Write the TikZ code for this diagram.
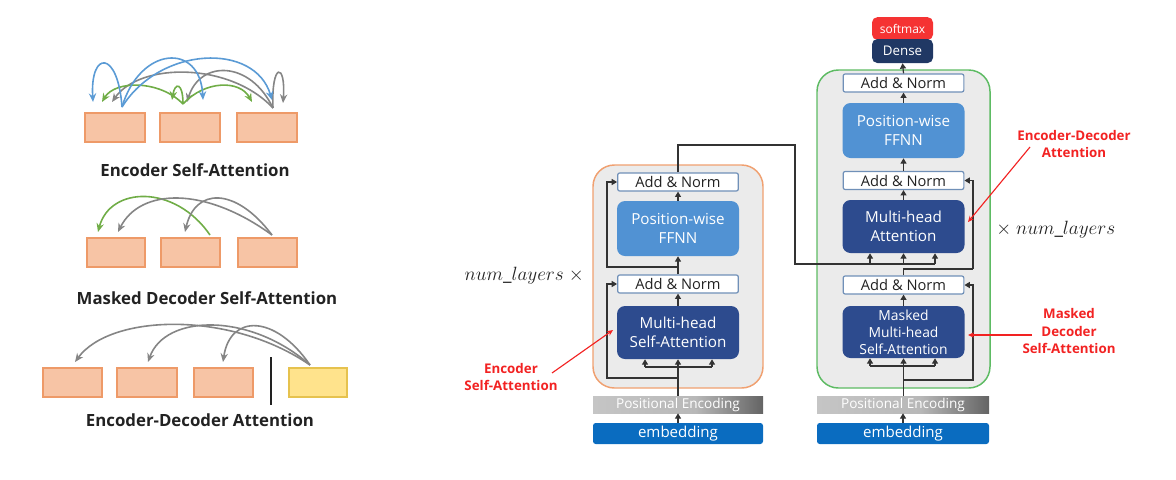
\documentclass[tikz,border=0pt]{standalone}
\usepackage{fontspec}
\setmainfont{Open Sans}
\usetikzlibrary{arrows.meta}
\definecolor{txt}{HTML}{222222}
\definecolor{salfill}{HTML}{F7C4A5}
\definecolor{saldraw}{HTML}{EE9A68}
\definecolor{yelfill}{HTML}{FFE38C}
\definecolor{yeldraw}{HTML}{E6C24E}
\definecolor{arcblue}{HTML}{5B9BD5}
\definecolor{arcgreen}{HTML}{70AD47}
\definecolor{arcgray}{HTML}{858585}
\definecolor{contfill}{HTML}{EBEBEB}
\definecolor{encdraw}{HTML}{F0A070}
\definecolor{decdraw}{HTML}{5DBB63}
\definecolor{anb}{HTML}{7090B8}
\definecolor{fffill}{HTML}{5192D3}
\definecolor{mhafill}{HTML}{2D4B8E}
\definecolor{densefill}{HTML}{203864}
\definecolor{softfill}{HTML}{F53333}
\definecolor{embfill}{HTML}{0A6CC0}
\definecolor{lineC}{HTML}{333333}
\definecolor{redlab}{HTML}{F22222}
\definecolor{pegl}{HTML}{D0D0D0}
\definecolor{pegm}{HTML}{B8B8B8}
\definecolor{pegd}{HTML}{3A3A3A}
\pgfdeclarehorizontalshading{peshade}{100bp}{color(0bp)=(pegl); color(55bp)=(pegm); color(85bp)=(pegd); color(100bp)=(black)}
\begin{document}
\begin{tikzpicture}[x=0.75pt,y=-0.75pt,
  tok/.style={draw=saldraw, fill=salfill, line width=0.9pt},
  ytok/.style={draw=yeldraw, fill=yelfill, line width=0.9pt},
  arc/.style={line width=1.2pt, -{Stealth[length=6.5pt,width=5.5pt]}},
  lcap/.style={font=\bfseries\fontsize{12.6}{14}\selectfont, text=txt, inner sep=0pt},
  cont/.style={fill=contfill, line width=1.1pt, rounded corners=16pt, inner sep=0pt},
  an/.style={draw=anb, fill=white, line width=0.9pt, rounded corners=1.5pt, minimum width=90.5pt, minimum height=13.5pt, inner sep=0pt, font=\fontsize{11}{12}\selectfont, text=txt},
  ff/.style={fill=fffill, rounded corners=6pt, minimum width=91.5pt, minimum height=41.25pt, inner sep=0pt, text=white, align=center, font=\fontsize{11.4}{14}\selectfont},
  mha/.style={fill=mhafill, rounded corners=6pt, minimum width=91.5pt, minimum height=39.75pt, inner sep=0pt, text=white, align=center, font=\fontsize{11.4}{14}\selectfont},
  pe/.style={shade, shading=peshade, minimum width=127.5pt, minimum height=12.75pt, inner sep=0pt, text=white, font=\fontsize{10.2}{11}\selectfont},
  emb/.style={fill=embfill, rounded corners=2pt, minimum width=127.5pt, minimum height=15.75pt, inner sep=0pt, text=white, font=\fontsize{11.3}{12}\selectfont},
  ln/.style={draw=lineC, line width=0.9pt},
  conn/.style={ln, -{Triangle[length=4pt,width=4.5pt]}},
  redl/.style={text=redlab, font=\bfseries\fontsize{10}{13}\selectfont, align=center, inner sep=0pt},
  redarr/.style={draw=redlab, line width=0.85pt, -{Stealth[length=4.5pt,width=4pt]}},
  nl/.style={font=\fontsize{14.2}{16}\selectfont, text=txt, inner sep=0pt}
]
\useasboundingbox (0,0) rectangle (1176,479);

% ---------------- left panel: Encoder Self-Attention
\node[tok, minimum width=45pt, minimum height=21.75pt, inner sep=0pt] (a1) at (115,127.5) {};
\node[tok, minimum width=45pt, minimum height=21.75pt, inner sep=0pt] (a2) at (190,127.5) {};
\node[tok, minimum width=45pt, minimum height=21.75pt, inner sep=0pt] (a3) at (267,127.5) {};
\node[lcap] (c1) at (195,170) {Encoder Self-Attention};
\coordinate (sb) at (122,107);
\coordinate (sg) at (273,108);
\coordinate (sgr) at (183,104);
\draw[arc, draw=arcgray] (sg) .. controls (230,62) and (140,62) .. (112,102);
\draw[arc, draw=arcgray] (sg) .. controls (250,60) and (200,60) .. (187,102);
\draw[arc, draw=arcgray] (sg) .. controls (271,62) and (286,62) .. (283,103);
\draw[arc, draw=arcgreen] (sgr) .. controls (160,80) and (115,80) .. (102,102);
\draw[arc, draw=arcgreen] (sgr) .. controls (183,82) and (175,82) .. (172,100);
\draw[arc, draw=arcgreen] (sgr) .. controls (205,80) and (240,80) .. (252,102);
\draw[arc, draw=arcblue] (sb) .. controls (118,50) and (90,50) .. (93,102);
\draw[arc, draw=arcblue] (sb) .. controls (140,46) and (200,42) .. (203,100);
\draw[arc, draw=arcblue] (sb) .. controls (160,46) and (255,42) .. (272,100);

% ---------------- left panel: Masked Decoder Self-Attention
\node[tok, minimum width=43.5pt, minimum height=21.75pt, inner sep=0pt] (m1) at (116,252.5) {};
\node[tok, minimum width=44.25pt, minimum height=21.75pt, inner sep=0pt] (m2) at (190.5,252.5) {};
\node[tok, minimum width=44.25pt, minimum height=21.75pt, inner sep=0pt] (m3) at (267.5,252.5) {};
\node[lcap] (c2) at (207,298) {Masked Decoder Self-Attention};
\coordinate (ms) at (272,235);
\coordinate (mg) at (210,235);
\draw[arc, draw=arcgreen] (mg) .. controls (175,184) and (110,186) .. (98,232);
\draw[arc, draw=arcgray] (ms) .. controls (205,186) and (140,188) .. (118,232);
\draw[arc, draw=arcgray] (ms) .. controls (235,186) and (195,188) .. (185,232);

% ---------------- left panel: Encoder-Decoder Attention
\node[tok, minimum width=44.25pt, minimum height=21.75pt, inner sep=0pt] (x1) at (72.5,382.5) {};
\node[tok, minimum width=45pt, minimum height=21.75pt, inner sep=0pt] (x2) at (147,382.5) {};
\node[tok, minimum width=44.25pt, minimum height=21.75pt, inner sep=0pt] (x3) at (223.5,382.5) {};
\node[ytok, minimum width=43.5pt, minimum height=21.75pt, inner sep=0pt] (y1) at (318,382.5) {};
\coordinate (dv1) at (271,357);
\coordinate (dv2) at (271,405);
\draw[line width=1.1pt, draw=txt] (dv1) -- (dv2);
\node[lcap] (c3) at (200,420) {Encoder-Decoder Attention};
\coordinate (xs) at (310,365);
\draw[arc, draw=arcgray] (xs) .. controls (230,310) and (110,314) .. (75,362);
\draw[arc, draw=arcgray] (xs) .. controls (250,312) and (165,314) .. (148,362);
\draw[arc, draw=arcgray] (xs) .. controls (275,314) and (230,314) .. (223,362);

% ---------------- Encoder stack
\node[cont, draw=encdraw, minimum width=127.5pt, minimum height=167.25pt] (ecnt) at (678,276.5) {};
\node[an] (eAN2) at (678,182) {Add \& Norm};
\node[ff] (eFF) at (678,228.5) {Position-wise\\FFNN};
\node[an] (eAN1) at (678,284) {Add \& Norm};
\node[mha] (eMHA) at (678,332.5) {Multi-head\\Self-Attention};
\node[pe] (ePE) at (678,404.5) {Positional Encoding};
\node[emb] (eEmb) at (678,433.5) {embedding};

\draw[conn] (eEmb.north) -- (ePE.south);
\coordinate (eb) at (678,367);
\coordinate (ebL) at (645,367);
\coordinate (ebR) at (712,367);
\draw[ln] (ePE.north) -- (eb);
\draw[ln] (ebL) -- (ebR);
\foreach \c in {ebL,eb,ebR} \draw[conn] (\c) -- (\c |- eMHA.south);
\coordinate (er1) at (678,378);
\coordinate (erx) at (607,378);
\draw[conn] (er1) -- (erx) -- (erx |- eAN1.west) -- (eAN1.west);
\coordinate (ej) at (678,267);
\draw[conn] (ej) -- (erx |- ej) -- (erx |- eAN2.west) -- (eAN2.west);
\draw[conn] (eMHA.north) -- (eAN1.south);
\draw[conn] (eAN1.north) -- (eFF.south);
\draw[conn] (eFF.north) -- (eAN2.south);

% ---------------- Decoder stack
\node[cont, draw=decdraw, minimum width=129.75pt, minimum height=238.5pt] (dcnt) at (903.5,229) {};
\node[fill=softfill, rounded corners=4pt, minimum width=45.75pt, minimum height=17pt, inner sep=0pt, text=white, font=\fontsize{9}{10}\selectfont] (soft) at (902.5,28.5) {softmax};
\node[fill=densefill, rounded corners=4pt, minimum width=45.75pt, minimum height=18pt, inner sep=0pt, text=white, font=\fontsize{10}{11}\selectfont] (dense) at (902.5,51) {Dense};
\node[an] (dAN3) at (903.5,83) {Add \& Norm};
\node[ff] (dFF) at (903.5,130.5) {Position-wise\\FFNN};
\node[an] (dAN2) at (903.5,180.5) {Add \& Norm};
\node[mha] (dMHA) at (903.5,226.5) {Multi-head\\Attention};
\node[an] (dAN1) at (903.5,285) {Add \& Norm};
\node[mha, minimum height=39pt, font=\fontsize{10.4}{12.75}\selectfont] (dMMHA) at (903.5,332) {Masked\\Multi-head\\Self-Attention};
\node[pe, minimum width=129pt] (dPE) at (903,404.5) {Positional Encoding};
\node[emb, minimum width=129pt] (dEmb) at (903,433.5) {embedding};

\draw[conn] (dEmb.north) -- (dPE.south);
\coordinate (db) at (903.5,366);
\coordinate (dbL) at (870,366);
\coordinate (dbR) at (935,366);
\draw[ln] (dPE.north -| db) -- (db);
\draw[ln] (dbL) -- (dbR);
\foreach \c in {dbL,db,dbR} \draw[conn] (\c) -- (\c |- dMMHA.south);
\coordinate (dr1) at (903.5,380);
\coordinate (drx) at (973,380);
\draw[conn] (dr1) -- (drx) -- (drx |- dAN1.east) -- (dAN1.east);
\draw[conn] (dMMHA.north) -- (dAN1.south);
\coordinate (dq) at (903.5,269);
\draw[ln] (dAN1.north) -- (dq) -- (drx |- dq);
\draw[conn] (drx |- dq) -- (drx |- dAN2.east) -- (dAN2.east);
\draw[conn] (dMHA.north) -- (dAN2.south);
\draw[conn] (dAN2.north) -- (dFF.south);
\draw[conn] (dFF.north) -- (dAN3.south);
\draw[conn] (dAN3.north) -- (dense.south);

% encoder output to decoder
\coordinate (eo1) at (678,145);
\coordinate (eo2) at (795,145);
\coordinate (eo3) at (795,264);
\coordinate (kv3) at (935,264);
\coordinate (kv1) at (870,264);
\coordinate (kv2) at (903.5,264);
\draw[ln] (eAN2.north) -- (eo1) -- (eo2) -- (eo3) -- (kv3);
\foreach \c in {kv1,kv2,kv3} \draw[conn] (\c) -- (\c |- dMHA.south);

% ---------------- labels
\node[nl, anchor=east] (nl1) at (584,276) {$num\_layers$ $\times$};
\node[nl, anchor=west] (nl2) at (996,230) {$\times$ $num\_layers$};

\node[redl] (r1) at (511,377) {Encoder\\Self-Attention};
\coordinate (r1s) at (552,373);
\coordinate (r1t) at (613,330);
\draw[redarr] (r1s) -- (r1t);

\node[redl] (r2) at (1074,144) {Encoder-Decoder\\Attention};
\coordinate (r2s) at (1030,147);
\coordinate (r2t) at (968,222);
\draw[redarr] (r2s) -- (r2t);

\node[redl] (r3) at (1069,331) {Masked\\Decoder\\Self-Attention};
\coordinate (r3s) at (1032,335);
\coordinate (r3t) at (968,335);
\draw[redarr] (r3s) -- (r3t);
\end{tikzpicture}
\end{document}
